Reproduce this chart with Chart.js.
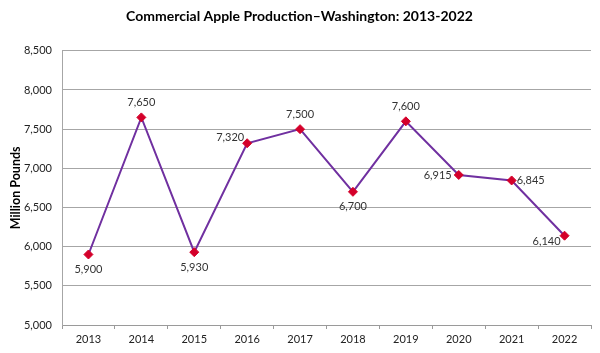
<!DOCTYPE html>
<html>
<head>
<meta charset="utf-8">
<script src="https://cdn.jsdelivr.net/npm/chart.js@4/dist/chart.umd.min.js"></script>
<style>
  html, body { margin: 0; padding: 0; background: #fff; }
  #wrap { width: 600px; height: 353px; position: relative; }
</style>
</head>
<body>
<div id="wrap"><canvas id="chart"></canvas></div>
<script>
const years = ["2013", "2014", "2015", "2016", "2017", "2018", "2019", "2020", "2021", "2022"];
const production = [5900, 7650, 5930, 7320, 7500, 6700, 7600, 6915, 6845, 6140];
const labelSpots = ["below", "above", "below", "left", "above", "below", "above", "left", "right", "leftBelow"];

const FONT = "Lato, 'Open Sans', sans-serif";

const pointLabels = {
  id: "pointLabels",
  afterDatasetsDraw(chart) {
    const { ctx } = chart;
    const meta = chart.getDatasetMeta(0);
    ctx.save();
    ctx.font = "11px " + FONT;
    ctx.fillStyle = "#333";
    meta.data.forEach((pt, i) => {
      const text = production[i].toLocaleString("en-US");
      let x = pt.x, y = pt.y;
      ctx.textAlign = "center";
      ctx.textBaseline = "middle";
      switch (labelSpots[i]) {
        case "above": y -= 15; break;
        case "below": y += 15; break;
        case "left": ctx.textAlign = "right"; x -= 3; y -= 6; break;
        case "right": ctx.textAlign = "left"; x += 5; break;
        case "leftBelow": ctx.textAlign = "right"; x -= 4; y += 6; break;
      }
      // 2020 label sits level with its point
      if (i === 7) { x -= 4; y += 6; }
      ctx.fillText(text, x, y);
    });
    ctx.restore();
  },
};

new Chart(document.getElementById("chart"), {
  type: "line",
  data: {
    labels: years,
    datasets: [
      {
        data: production,
        borderColor: "#7030a0",
        borderWidth: 2,
        tension: 0,
        pointStyle: "rectRot",
        pointRadius: 4.5,
        pointBackgroundColor: "#d4002a",
        pointBorderColor: "#d4002a",
        pointBorderWidth: 1,
      },
    ],
  },
  options: {
    responsive: true,
    maintainAspectRatio: false,
    animation: false,
    layout: { padding: { left: 8, right: 9, top: 0, bottom: 0 } },
    plugins: {
      legend: { display: false },
      tooltip: { enabled: false },
      title: {
        display: true,
        text: "Commercial Apple Production\u2013Washington: 2013-2022",
        color: "#000",
        font: { family: FONT, size: 14, weight: "bold" },
        padding: { top: 8, bottom: 26 },
      },
    },
    scales: {
      x: {
        offset: true,
        grid: {
          offset: true,
          drawOnChartArea: false,
          tickLength: 4,
          color: "#9a9a9a",
        },
        border: { color: "#9a9a9a" },
        ticks: { color: "#222", font: { family: FONT, size: 11 }, padding: 4 },
        afterFit(scale) { scale.height = 28; },
      },
      y: {
        min: 5000,
        max: 8500,
        ticks: {
          stepSize: 500,
          color: "#222",
          font: { family: FONT, size: 11 },
          padding: 10,
          callback: (v) => v.toLocaleString("en-US"),
        },
        grid: { color: "#a6a6a6", tickLength: 0 },
        border: { color: "#a6a6a6" },
        title: {
          display: true,
          text: "Million Pounds",
          color: "#000",
          font: { family: FONT, size: 12.5, weight: "bold" },
          padding: { top: 0, bottom: 4 },
        },
        afterFit(scale) { scale.width = 54; },
      },
    },
  },
  plugins: [pointLabels],
});
</script>
</body>
</html>
